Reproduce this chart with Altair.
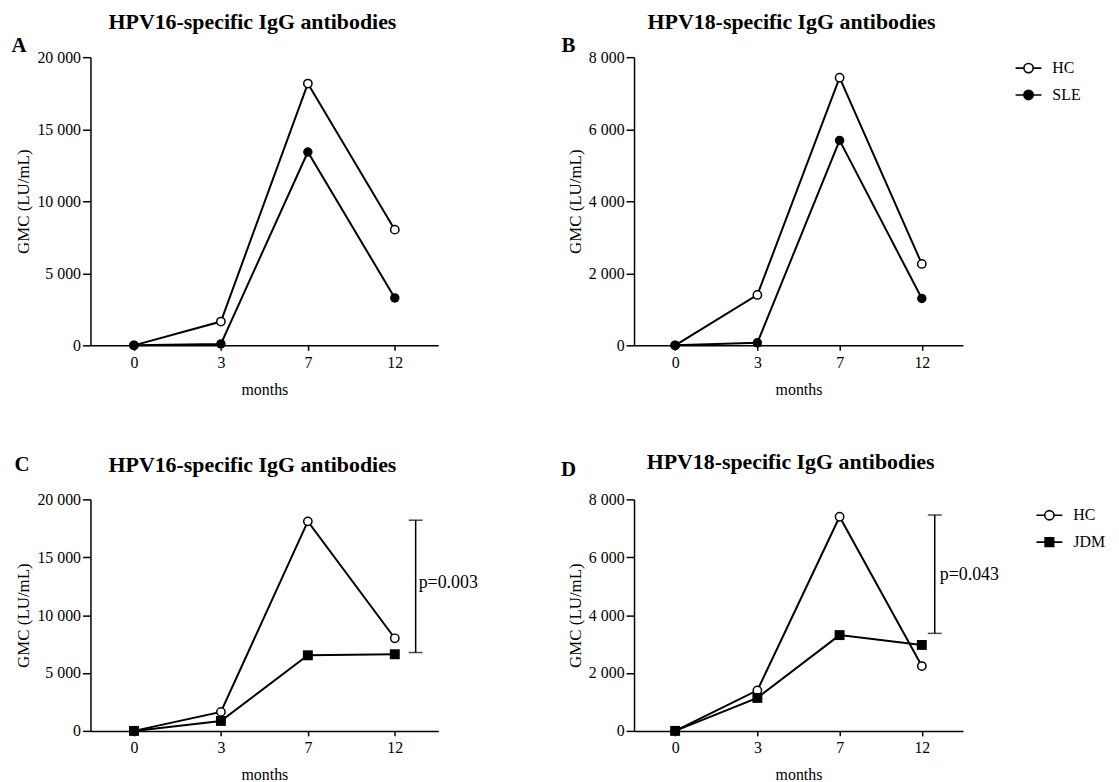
import altair as alt
import pandas as pd

MONTHS = [0, 3, 7, 12]

# Panel A / B : HC vs SLE
A_HC = [0, 1650, 18170, 8030]
A_SLE = [0, 100, 13420, 3290]
B_HC = [0, 1400, 7430, 2260]
B_SLE = [0, 70, 5690, 1300]
# Panel C / D : HC vs JDM
C_HC = [0, 1640, 18100, 8000]
C_JDM = [0, 860, 6530, 6620]
D_HC = [0, 1400, 7400, 2240]
D_JDM = [0, 1140, 3310, 2970]

Y_TICKS_16 = [0, 5000, 10000, 15000, 20000]
Y_TICKS_18 = [0, 2000, 4000, 6000, 8000]
TITLE_16 = "HPV16-specific IgG antibodies"
TITLE_18 = "HPV18-specific IgG antibodies"

C_BRACKET = [6770, 18200]
C_P_Y = 12800
C_P_TEXT = "p=0.003"
D_BRACKET = [3370, 7460]
D_P_Y = 5390
D_P_TEXT = "p=0.043"

FONT = "Liberation Serif"

OPEN_CIRCLE = "M-1,0L-0.36,0M0.36,0L1,0M-0.36,0A0.36,0.36,0,1,1,0.36,0A0.36,0.36,0,1,1,-0.36,0Z"
DOT_CIRCLE = OPEN_CIRCLE
SQUARE_LINE = "M-1,0L-0.33,0M0.33,0L1,0M-0.33,-0.33L0.33,-0.33L0.33,0.33L-0.33,0.33Z"


def panel(letter, letter_xy, title, title_dx, title_offset, hc, other,
          other_name, other_shape, other_size, legend_path, yticks, width,
          height, legend_xy=None, bracket=None):
    df = pd.DataFrame({
        "month": MONTHS * 2,
        "gmc": hc + other,
        "group": ["HC"] * 4 + [other_name] * 4,
    })
    xs = alt.Scale(type="point", padding=0.5)
    xaxis = alt.Axis(title="months", labelAngle=0, tickSize=5, labelPadding=4,
                     titlePadding=11)
    ys = alt.Scale(domain=[0, yticks[-1]], nice=False)
    yaxis = alt.Axis(title="GMC (LU/mL)", values=yticks, tickSize=8,
                     labelPadding=2, titlePadding=4,
                     labelExpr="replace(format(datum.value, ','), ',', ' ')")
    x = alt.X("month:O", sort=MONTHS, scale=xs, axis=xaxis)
    y = alt.Y("gmc:Q", scale=ys, axis=yaxis)

    base = alt.Chart(df)
    lines = base.mark_line(color="black", strokeWidth=2).encode(
        x=x, y=y, detail="group:N")
    hc_pts = base.transform_filter(alt.datum.group == "HC").mark_point(
        shape="circle", filled=True, fill="white", stroke="black",
        strokeWidth=1.5, size=70, opacity=1).encode(x=x, y=y)
    oth_pts = base.transform_filter(alt.datum.group == other_name).mark_point(
        shape=other_shape, filled=True, color="black", size=other_size,
        opacity=1).encode(x=x, y=y)

    ldf = pd.DataFrame({"t": [letter]})
    letter_mark = alt.Chart(ldf).mark_text(
        font=FONT, fontSize=21, fontWeight="bold", color="black",
        align="center", baseline="middle").encode(
        text="t:N", x=alt.value(letter_xy[0]), y=alt.value(letter_xy[1]))

    layers = [lines, hc_pts, oth_pts, letter_mark]

    if bracket is not None:
        lo_hi, p_y, p_text, rule_off, text_off = bracket
        bdf = pd.DataFrame({"month": [12, 12], "gmc": lo_hi})
        tdf = pd.DataFrame({"month": [12], "gmc": [p_y], "label": [p_text]})
        rule = alt.Chart(bdf).mark_rule(
            color="black", strokeWidth=1.5, xOffset=rule_off).encode(
            x=x, y=alt.Y("min(gmc):Q", scale=ys, axis=yaxis),
            y2=alt.Y2("max(gmc):Q"))
        caps = alt.Chart(bdf).mark_tick(
            orient="horizontal", color="black", thickness=1.5, size=14,
            xOffset=rule_off).encode(x=x, y=y)
        ptext = alt.Chart(tdf).mark_text(
            font=FONT, fontSize=18, color="black", align="left",
            baseline="middle", xOffset=text_off).encode(
            x=x, y=y, text="label:N")
        layers += [rule, caps, ptext]

    if legend_xy is not None:
        leg = alt.Legend(title=None, orient="none", legendX=legend_xy[0],
                         legendY=legend_xy[1], symbolSize=676,
                         symbolStrokeWidth=1.6, symbolStrokeColor="black",
                         symbolOpacity=1, labelFont=FONT, labelFontSize=16,
                         labelColor="black", labelOffset=10, rowPadding=5,
                         padding=0)
        dom = ["HC", other_name]
        legend_layer = base.transform_filter("false").mark_point(
            color="black", strokeWidth=1.6).encode(
            shape=alt.Shape("group:N", scale=alt.Scale(
                domain=dom, range=[OPEN_CIRCLE, legend_path]), legend=leg),
            fill=alt.Fill("group:N", scale=alt.Scale(
                domain=dom, range=["white", "black"]), legend=leg),
            stroke=alt.Stroke("group:N", scale=alt.Scale(
                domain=dom, range=["black", "black"]), legend=leg))
        layers.append(legend_layer)

    return alt.layer(*layers).properties(
        width=width, height=height,
        title=alt.TitleParams(title, font=FONT, fontSize=22,
                              fontWeight="bold", color="black",
                              anchor="middle", dx=title_dx,
                              offset=title_offset))


A = panel("A", (-72, -11), TITLE_16, -12, 1, A_HC, A_SLE, "SLE", "circle", 90,
          DOT_CIRCLE, Y_TICKS_16, 350, 290)
B = panel("B", (-66, -11), TITLE_18, -7, 1, B_HC, B_SLE, "SLE", "circle", 90,
          DOT_CIRCLE, Y_TICKS_18, 331, 290, legend_xy=(383, -3))
C = panel("C", (-69, -35), TITLE_16, -12, -23, C_HC, C_JDM, "JDM", "square",
          100, SQUARE_LINE, Y_TICKS_16, 350, 233,
          bracket=(C_BRACKET, C_P_Y, C_P_TEXT, 21, 24))
D = panel("D", (-66, -30), TITLE_18, -8, -15, D_HC, D_JDM, "JDM", "square",
          100, SQUARE_LINE, Y_TICKS_18, 331, 233, legend_xy=(404, 2),
          bracket=(D_BRACKET, D_P_Y, D_P_TEXT, 13, 18))

chart = alt.concat(A, B, C, D, columns=2, bounds="flush",
                   spacing={"row": 155, "column": 197}).resolve_scale(
    shape="independent", fill="independent", stroke="independent").properties(
    padding={"left": 3, "top": 1, "right": 5, "bottom": 5}).configure(
    background="white").configure_view(stroke=None).configure_axis(
    domainColor="black", domainWidth=1.5, tickColor="black", tickWidth=1.5,
    labelFont=FONT, labelFontSize=16, labelColor="black",
    titleFont=FONT, titleFontSize=17, titleFontWeight="normal",
    titleColor="black", grid=False).configure_axisX(titleFontSize=16)

chart.save("out.html", embed_options={"renderer": "svg", "actions": False})
